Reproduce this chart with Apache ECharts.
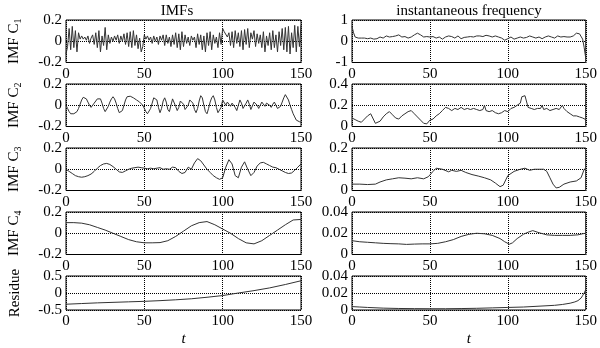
<!DOCTYPE html>
<html><head><meta charset="utf-8">
<script src="https://cdn.jsdelivr.net/npm/echarts@6/dist/echarts.min.js"></script>
<style>html,body{margin:0;padding:0;background:#fff}#c{width:600px;height:348px}</style>
</head><body><div id="c"></div>
<script>
// ---- data ----
const imfC1 = [-0.12,-0.05,0.12,-0.08,0.14,-0.06,0.1,-0.1,0.08,0.02,0.05,0.02,0.04,0.01,0.05,-0.02,0.03,0.06,-0.03,0.08,-0.06,0.1,-0.1,0.05,-0.04,0.13,-0.08,0.06,-0.02,0.04,0.0,0.05,0.01,0.06,-0.02,0.05,0.0,0.07,-0.03,0.08,-0.05,0.09,-0.06,0.1,-0.04,0.06,-0.07,0.03,-0.1,-0.05,0.06,0.02,0.05,0.01,0.04,-0.02,0.05,0.0,0.04,-0.03,0.05,0.01,0.06,-0.04,0.06,-0.02,0.04,-0.05,0.06,-0.03,0.08,-0.06,0.07,-0.08,0.09,-0.05,0.06,-0.02,0.04,-0.04,0.05,0.01,0.04,-0.06,0.07,-0.03,0.06,-0.08,0.05,-0.1,0.08,-0.04,0.09,-0.08,0.06,-0.02,0.04,-0.06,0.08,-0.03,0.12,0.09,0.1,0.04,0.08,-0.04,0.09,-0.06,0.1,-0.02,0.08,-0.05,0.1,-0.08,0.11,-0.03,0.12,-0.06,0.08,0.02,0.1,-0.05,0.07,-0.02,0.06,-0.06,0.09,-0.1,0.05,-0.04,0.08,-0.08,0.1,-0.06,0.06,-0.1,0.09,-0.04,0.12,-0.08,0.13,-0.1,0.14,-0.12,0.08,-0.06,0.15,-0.1,0.14,-0.05,0.15];
const imfC2 = [0.0,-0.03,-0.06,-0.08,-0.085,-0.08,-0.075,-0.06,-0.03,0.01,0.05,0.075,0.08,0.06,0.03,0.0,-0.02,-0.01,0.02,0.04,0.06,0.07,0.06,0.02,-0.03,-0.06,-0.05,-0.01,0.03,0.06,0.08,0.06,0.02,-0.03,-0.07,-0.08,-0.05,0.0,0.05,0.08,0.09,0.085,0.08,0.07,0.06,0.05,0.04,0.03,0.02,0.0,-0.03,-0.06,-0.08,-0.07,-0.03,0.02,0.07,0.08,0.05,-0.02,-0.07,-0.03,0.04,0.07,0.03,-0.04,-0.06,0.0,0.06,0.05,-0.01,-0.05,-0.02,0.04,0.05,0.01,-0.04,-0.05,0.0,0.05,0.06,0.02,-0.04,-0.07,-0.03,0.04,0.09,0.07,0.0,-0.06,-0.08,-0.03,0.03,0.07,0.09,0.05,-0.02,-0.07,-0.08,-0.02,0.05,0.04,0.0,0.03,0.04,-0.01,0.02,0.03,-0.02,-0.05,0.0,0.05,0.02,-0.03,-0.04,0.02,0.05,0.01,-0.04,-0.03,0.03,0.04,0.0,-0.03,0.0,0.03,0.02,-0.01,0.02,0.03,0.0,-0.02,0.01,0.03,0.0,-0.03,-0.04,-0.01,0.03,0.07,0.1,0.09,0.05,0.0,-0.04,-0.08,-0.11,-0.14,-0.15,-0.155,-0.16];
const tC3 = [0,2,4,6,8,10,12,14,16,18,20,22,24,26,28,30,32,34,36,38,40,42,44,46,48,50,52,54,56,58,60,62,64,66,68,70,72,74,76,78,80,82,84,86,88,90,92,94,96,98,100,102,104,106,108,110,112,114,116,118,120,122,124,126,128,130,132,134,136,138,140,142,144,146,148,150];
const imfC3 = [0.0,-0.02,-0.04,-0.06,-0.07,-0.075,-0.07,-0.06,-0.045,-0.02,0.01,0.035,0.05,0.055,0.045,0.025,0.0,-0.025,-0.03,-0.015,0.0,0.01,0.015,0.02,0.015,0.01,0.005,0.01,0.005,0.01,0.015,0.0,0.005,0.0,0.02,0.015,-0.02,-0.04,-0.03,0.02,0.0,0.06,0.1,0.08,0.04,0.0,-0.03,-0.06,-0.08,-0.095,-0.08,0.02,0.09,0.05,-0.06,-0.08,0.02,0.07,0.0,-0.06,-0.03,0.03,0.06,0.065,0.05,0.035,0.02,0.015,0.0,-0.015,-0.03,-0.04,-0.035,-0.01,0.02,0.05];
const tC4 = [0,5,10,15,20,25,30,35,40,45,50,55,60,65,70,75,80,85,90,95,100,105,110,115,120,125,130,135,140,145,150];
const imfC4 = [0.1,0.1,0.095,0.08,0.055,0.03,0.0,-0.03,-0.06,-0.08,-0.09,-0.09,-0.088,-0.07,-0.03,0.02,0.07,0.1,0.11,0.08,0.04,0.0,-0.05,-0.09,-0.1,-0.07,-0.02,0.03,0.08,0.125,0.13];
const tRes = [0,10,20,30,40,50,60,70,80,90,100,110,120,130,140,150];
const residue = [-0.33,-0.31,-0.29,-0.275,-0.26,-0.245,-0.225,-0.2,-0.17,-0.125,-0.075,0.0,0.07,0.15,0.25,0.36];

const tF1 = [0,1,2,4,6,8,10,12,14,16,18,20,22,24,26,28,30,32,34,36,38,40,42,44,46,48,50,52,54,56,58,60,62,64,66,68,70,72,74,76,78,80,82,84,86,88,90,92,94,96,98,100,102,104,106,108,110,112,114,116,118,120,122,124,126,128,130,132,134,136,138,140,142,144,146,148,149,150];
const freq1 = [0.7,0.4,0.2,0.15,0.15,0.15,0.12,0.15,0.1,0.12,0.2,0.15,0.25,0.2,0.22,0.25,0.3,0.2,0.22,0.15,0.2,0.3,0.38,0.3,0.2,0.22,0.2,0.22,0.15,0.2,0.1,0.2,0.25,0.22,0.15,0.25,0.12,0.18,0.2,0.22,0.2,0.25,0.25,0.22,0.28,0.25,0.2,0.25,0.2,0.15,0.05,0.12,0.2,0.1,0.15,0.2,0.15,0.18,0.25,0.2,0.15,0.2,0.12,0.2,0.25,0.2,0.15,0.25,0.2,0.22,0.2,0.2,0.25,0.38,0.35,0.1,-0.3,-0.8];
const tF2 = [0,2,4,6,8,10,12,13,15,16,18,20,22,24,26,28,30,32,34,36,38,40,42,44,46,47,48,50,52,54,56,58,60,62,64,66,68,70,72,74,76,78,80,82,84,85,86,88,90,92,94,96,98,100,102,104,106,108,109,111,112,113,115,117,119,121,122,123,125,127,129,131,133,135,136,138,140,142,144,146,148,150];
const freq2 = [0.08,0.065,0.05,0.04,0.07,0.1,0.12,0.11,0.03,0.02,0.05,0.09,0.12,0.14,0.11,0.08,0.07,0.1,0.12,0.14,0.15,0.12,0.09,0.06,0.03,0.02,0.025,0.06,0.07,0.1,0.12,0.15,0.18,0.17,0.15,0.17,0.16,0.18,0.16,0.17,0.16,0.17,0.16,0.15,0.16,0.2,0.15,0.14,0.15,0.13,0.12,0.13,0.15,0.14,0.17,0.18,0.2,0.22,0.28,0.29,0.28,0.18,0.17,0.16,0.17,0.17,0.2,0.16,0.17,0.15,0.16,0.17,0.16,0.2,0.17,0.14,0.12,0.1,0.1,0.09,0.08,0.065];
const tF3 = [0,5,10,15,18,22,26,30,34,38,42,46,49,52,54,58,62,64,67,70,73,77,81,85,89,92,95,97,100,104,108,111,114,117,120,123,125,127,129,131,133,136,140,144,147,149,150];
const freq3 = [0.03,0.03,0.028,0.03,0.04,0.05,0.055,0.06,0.058,0.055,0.06,0.055,0.065,0.09,0.105,0.1,0.088,0.095,0.09,0.095,0.085,0.075,0.068,0.06,0.05,0.035,0.018,0.025,0.07,0.09,0.1,0.105,0.095,0.1,0.1,0.1,0.09,0.06,0.03,0.012,0.015,0.03,0.04,0.045,0.06,0.1,0.105];
const tF4 = [0,5,10,15,20,25,30,35,40,45,50,55,60,65,70,75,80,85,90,95,98,101,103,106,110,113,116,120,125,130,135,140,145,148,150];
const freq4 = [0.013,0.012,0.0115,0.011,0.0105,0.0102,0.01,0.0095,0.0098,0.01,0.01,0.0105,0.012,0.014,0.017,0.019,0.02,0.0195,0.018,0.015,0.012,0.0097,0.011,0.015,0.019,0.021,0.0225,0.0205,0.0185,0.018,0.018,0.018,0.0185,0.0195,0.02];
const tF5 = [0,5,10,20,30,40,50,60,70,80,90,100,110,120,130,135,140,143,145,147,148,149,150];
const freq5 = [0.004,0.0035,0.003,0.0022,0.0018,0.0016,0.0015,0.0015,0.0017,0.002,0.0025,0.003,0.0035,0.0045,0.0055,0.0065,0.008,0.0095,0.011,0.014,0.017,0.02,0.024];

const leftNames = ['{a|IMF C}{s|1}','{a|IMF C}{s|2}','{a|IMF C}{s|3}','{a|IMF C}{s|4}','{a|Residue}'];
const leftRanges = [[-0.2,0.2,0.2],[-0.2,0.2,0.2],[-0.2,0.2,0.2],[-0.2,0.2,0.2],[-0.5,0.5,0.5]];
const rightRanges = [[-1,1,1],[0,0.4,0.2],[0,0.2,0.1],[0,0.04,0.02],[0,0.04,0.02]];
const xTicks = [0, 150, 50];

// ---- build ----
const FONT = '"Liberation Serif","Times New Roman",serif';
const idx = a => a.map((v,i)=>[i,v]);
const zip = (t,a) => a.map((v,i)=>[t[i],v]);
const leftData = [idx(imfC1), idx(imfC2), zip(tC3,imfC3), zip(tC4,imfC4), zip(tRes,residue)];
const rightData = [zip(tF1,freq1), zip(tF2,freq2), zip(tF3,freq3), zip(tF4,freq4), zip(tF5,freq5)];

const grids=[], xAxes=[], yAxes=[], series=[];
const dotted = {show:true, lineStyle:{color:'#000', type:[1,1], width:1}};
for (let col=0; col<2; col++) {
  for (let r=0; r<5; r++) {
    const gi = grids.length;
    grids.push({left: col===0?66:352, width: col===0?235:236, top: 20+64*r, height: 42.5,
      show:true, borderColor:'#000', borderWidth:1, backgroundColor:'#fff'});
    xAxes.push({type:'value', gridIndex:gi, min:xTicks[0], max:xTicks[1], interval:xTicks[2],
      axisLine:{show:false}, axisTick:{show:false}, splitLine:dotted,
      axisLabel:{color:'#000', fontFamily:FONT, fontSize:15, margin:4},
      name: r===4?'t':'', nameLocation:'middle', nameGap:22,
      nameTextStyle:{color:'#000', fontFamily:FONT, fontSize:15, fontStyle:'italic'}});
    const rg = col===0?leftRanges[r]:rightRanges[r];
    yAxes.push({type:'value', gridIndex:gi, min:rg[0], max:rg[1], interval:rg[2],
      axisLine:{show:false}, axisTick:{show:false}, splitLine:dotted,
      axisLabel:{color:'#000', fontFamily:FONT, fontSize:15, margin:4},
      name: col===0?leftNames[r]:'', nameLocation:'middle', nameGap:43, nameRotate:90,
      nameTextStyle:{color:'#000', fontFamily:FONT, fontSize:15,
        rich:{a:{fontFamily:FONT, fontSize:15, color:'#000'},
              s:{fontFamily:FONT, fontSize:10, color:'#000', verticalAlign:'bottom', padding:[8,0,0,0]}}}});
    series.push({type:'line', xAxisIndex:gi, yAxisIndex:gi, data: col===0?leftData[r]:rightData[r],
      showSymbol:false, symbol:'none', lineStyle:{color:'#333', width:1}, silent:true});
  }
}

const chart = echarts.init(document.getElementById('c'), null, {renderer:'canvas'});
chart.setOption({
  animation:false,
  backgroundColor:'#fff',
  grid:grids, xAxis:xAxes, yAxis:yAxes, series:series,
  graphic:[
    {type:'text', x:177, y:11, style:{text:'IMFs', fill:'#000', font:'15px '+FONT, textAlign:'center', textVerticalAlign:'middle'}},
    {type:'text', x:469, y:11, style:{text:'instantaneous frequency', fill:'#000', font:'15px '+FONT, textAlign:'center', textVerticalAlign:'middle'}}
  ]
});
</script></body></html>
